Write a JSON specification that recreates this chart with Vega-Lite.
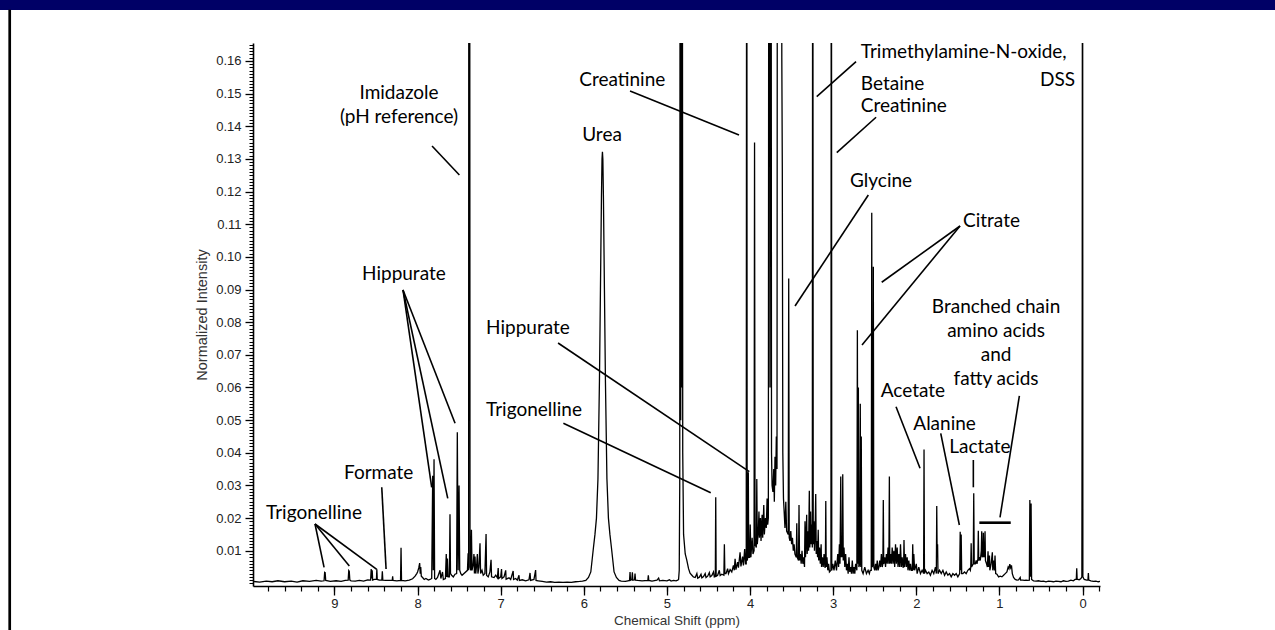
{
"$schema": "https://vega.github.io/schema/vega-lite/v6.json",
"width": 847, "height": 543,
"autosize": {"type": "none"},
"padding": {"left": 253, "top": 43, "right": 175, "bottom": 44},
"background": "white",
"config": {"view": {"stroke": null}, "font": "Liberation Sans"},
"resolve": {"axis": {"x": "independent", "y": "independent"}},
"datasets": {
"spectrum": [
{"p":9.98,"i":0.0006},{"p":9.9,"i":0.0004},{"p":9.82,"i":0.0007},{"p":9.75,"i":0.0005},{"p":9.68,"i":0.0008},{"p":9.6,"i":0.0005},{"p":9.52,"i":0.0007},{"p":9.45,"i":0.0004},{"p":9.38,"i":0.0008},{"p":9.3,"i":0.0006},{"p":9.22,"i":0.0009},{"p":9.16,"i":0.0007},
{"p":9.125,"i":0.0008},{"p":9.118,"i":0.0034},{"p":9.112,"i":0.0033},{"p":9.105,"i":0.0009},{"p":9.05,"i":0.0006},{"p":8.98,"i":0.0008},{"p":8.92,"i":0.0006},{"p":8.87,"i":0.0009},
{"p":8.835,"i":0.001},{"p":8.828,"i":0.0039},{"p":8.822,"i":0.0037},{"p":8.815,"i":0.001},{"p":8.8,"i":0.0008},{"p":8.75,"i":0.0007},{"p":8.7,"i":0.0009},{"p":8.65,"i":0.0007},{"p":8.6,"i":0.0011},
{"p":8.565,"i":0.001},{"p":8.558,"i":0.0044},{"p":8.552,"i":0.0015},{"p":8.546,"i":0.004},{"p":8.54,"i":0.001},{"p":8.52,"i":0.0012},{"p":8.495,"i":0.0012},{"p":8.49,"i":0.0043},{"p":8.485,"i":0.0012},{"p":8.46,"i":0.001},
{"p":8.43,"i":0.001},{"p":8.424,"i":0.0037},{"p":8.418,"i":0.001},{"p":8.38,"i":0.0009},{"p":8.305,"i":0.0009},{"p":8.3,"i":0.0022},{"p":8.295,"i":0.0009},{"p":8.25,"i":0.0008},
{"p":8.205,"i":0.0009},{"p":8.199,"i":0.0109},{"p":8.193,"i":0.0009},{"p":8.15,"i":0.0008},{"p":8.1,"i":0.001},{"p":8.06,"i":0.0014},{"p":8.03,"i":0.0022},{"p":8.01,"i":0.003},
{"p":8.0,"i":0.0035},{"p":7.985,"i":0.0048},{"p":7.975,"i":0.0062},{"p":7.968,"i":0.003},{"p":7.962,"i":0.005},{"p":7.955,"i":0.0022},{"p":7.94,"i":0.0018},{"p":7.92,"i":0.0012},{"p":7.9,"i":0.0015},{"p":7.87,"i":0.001},{"p":7.85,"i":0.0012},
{"p":7.83,"i":0.0015},{"p":7.818,"i":0.033},{"p":7.811,"i":0.004},{"p":7.802,"i":0.038},{"p":7.795,"i":0.0015},{"p":7.78,"i":0.0012},{"p":7.76,"i":0.0018},{"p":7.73,"i":0.004},{"p":7.72,"i":0.0015},{"p":7.7,"i":0.0035},{"p":7.69,"i":0.0012},
{"p":7.665,"i":0.0015},{"p":7.655,"i":0.009},{"p":7.649,"i":0.002},{"p":7.641,"i":0.0076},{"p":7.633,"i":0.002},{"p":7.617,"i":0.002},{"p":7.61,"i":0.0212},{"p":7.604,"i":0.003},{"p":7.59,"i":0.0025},{"p":7.57,"i":0.002},{"p":7.55,"i":0.0028},
{"p":7.53,"i":0.003},{"p":7.522,"i":0.0463},{"p":7.512,"i":0.004},{"p":7.501,"i":0.03},{"p":7.493,"i":0.004},{"p":7.48,"i":0.003},{"p":7.465,"i":0.0025},
{"p":7.4,"i":0.004},{"p":7.392,"i":0.0092},{"p":7.386,"i":0.004},{"p":7.383,"i":0.3},{"p":7.378,"i":0.05},{"p":7.374,"i":0.3},{"p":7.369,"i":0.005},
{"p":7.36,"i":0.004},{"p":7.352,"i":0.0164},{"p":7.345,"i":0.004},{"p":7.33,"i":0.006},{"p":7.322,"i":0.009},{"p":7.316,"i":0.003},{"p":7.309,"i":0.0082},{"p":7.3,"i":0.003},{"p":7.288,"i":0.006},{"p":7.281,"i":0.009},{"p":7.274,"i":0.003},{"p":7.262,"i":0.005},{"p":7.249,"i":0.0123},{"p":7.242,"i":0.003},{"p":7.225,"i":0.004},{"p":7.21,"i":0.0025},{"p":7.19,"i":0.003},{"p":7.176,"i":0.0151},{"p":7.17,"i":0.0025},{"p":7.15,"i":0.002},{"p":7.13,"i":0.0035},{"p":7.116,"i":0.0072},{"p":7.11,"i":0.002},{"p":7.08,"i":0.0018},{"p":7.06,"i":0.0025},{"p":7.04,"i":0.0017},{"p":7.03,"i":0.0047},{"p":7.025,"i":0.0015},
{"p":7.0,"i":0.002},{"p":6.99,"i":0.0044},{"p":6.985,"i":0.0015},{"p":6.96,"i":0.002},{"p":6.94,"i":0.004},{"p":6.935,"i":0.0013},{"p":6.9,"i":0.0017},{"p":6.88,"i":0.0012},{"p":6.85,"i":0.0038},{"p":6.845,"i":0.0012},{"p":6.82,"i":0.0015},{"p":6.8,"i":0.001},{"p":6.78,"i":0.0025},{"p":6.775,"i":0.0009},{"p":6.74,"i":0.0011},{"p":6.7,"i":0.0008},{"p":6.66,"i":0.0011},{"p":6.647,"i":0.0032},{"p":6.64,"i":0.0009},{"p":6.6,"i":0.0012},{"p":6.58,"i":0.0041},{"p":6.575,"i":0.0009},{"p":6.55,"i":0.0008},
{"p":6.5,"i":0.0006},{"p":6.45,"i":0.0004},{"p":6.4,"i":0.0005},{"p":6.35,"i":0.0003},{"p":6.3,"i":0.0004},{"p":6.25,"i":0.0003},{"p":6.2,"i":0.0004},{"p":6.15,"i":0.0003},{"p":6.1,"i":0.0005},{"p":6.05,"i":0.0006},{"p":6.016,"i":0.0007},
{"p":5.976,"i":0.0009},{"p":5.944,"i":0.0018},{"p":5.916,"i":0.0035},{"p":5.884,"i":0.011},{"p":5.866,"i":0.015},{"p":5.848,"i":0.02},{"p":5.83,"i":0.032},{"p":5.812,"i":0.062},{"p":5.8,"i":0.09},{"p":5.788,"i":0.118},{"p":5.781,"i":0.13},{"p":5.776,"i":0.1322},{"p":5.771,"i":0.13},{"p":5.764,"i":0.118},{"p":5.752,"i":0.09},{"p":5.74,"i":0.062},{"p":5.722,"i":0.032},{"p":5.704,"i":0.02},{"p":5.686,"i":0.015},{"p":5.668,"i":0.011},{"p":5.636,"i":0.0035},{"p":5.608,"i":0.0018},{"p":5.576,"i":0.0009},
{"p":5.55,"i":0.0007},{"p":5.5,"i":0.0006},{"p":5.47,"i":0.0008},{"p":5.45,"i":0.0009},{"p":5.444,"i":0.0035},{"p":5.438,"i":0.001},{"p":5.422,"i":0.0012},{"p":5.416,"i":0.0034},{"p":5.41,"i":0.001},{"p":5.39,"i":0.0011},{"p":5.384,"i":0.003},{"p":5.378,"i":0.001},{"p":5.35,"i":0.0009},{"p":5.3,"i":0.0008},{"p":5.23,"i":0.0009},{"p":5.224,"i":0.0025},{"p":5.218,"i":0.0009},{"p":5.18,"i":0.0007},{"p":5.12,"i":0.001},{"p":5.1,"i":0.0016},{"p":5.09,"i":0.0008},{"p":5.05,"i":0.0009},{"p":5.0,"i":0.0008},{"p":4.97,"i":0.0011},{"p":4.95,"i":0.0007},{"p":4.92,"i":0.0009},{"p":4.89,"i":0.0008},{"p":4.87,"i":0.001},
{"p":4.86,"i":0.0012},{"p":4.852,"i":0.004},{"p":4.846,"i":0.03},{"p":4.84,"i":0.3},{"p":4.834,"i":0.05},{"p":4.828,"i":0.3},{"p":4.822,"i":0.06},{"p":4.816,"i":0.3},{"p":4.81,"i":0.04},{"p":4.8,"i":0.015},{"p":4.78,"i":0.009},{"p":4.762,"i":0.0072},{"p":4.74,"i":0.0045},{"p":4.722,"i":0.0031},{"p":4.7,"i":0.0025},{"p":4.682,"i":0.002},
{"p":4.66,"i":0.0018},{"p":4.64,"i":0.003},{"p":4.63,"i":0.0016},{"p":4.61,"i":0.0019},{"p":4.59,"i":0.0028},{"p":4.58,"i":0.0017},{"p":4.56,"i":0.0021},{"p":4.54,"i":0.003},{"p":4.53,"i":0.0018},{"p":4.51,"i":0.0022},{"p":4.49,"i":0.0033},{"p":4.48,"i":0.002},{"p":4.46,"i":0.0024},{"p":4.44,"i":0.0035},{"p":4.43,"i":0.002},
{"p":4.418,"i":0.0022},{"p":4.413,"i":0.0264},{"p":4.408,"i":0.0022},{"p":4.39,"i":0.0025},{"p":4.37,"i":0.004},{"p":4.36,"i":0.0024},{"p":4.34,"i":0.0028},{"p":4.315,"i":0.0025},{"p":4.309,"i":0.012},{"p":4.303,"i":0.003},{"p":4.29,"i":0.003},{"p":4.27,"i":0.0045},{"p":4.26,"i":0.003},{"p":4.24,"i":0.0042},{"p":4.22,"i":0.0035},{"p":4.2,"i":0.0055},{"p":4.19,"i":0.004},{"p":4.18,"i":0.0075},{"p":4.17,"i":0.0042},{"p":4.15,"i":0.0065},{"p":4.14,"i":0.0048},{"p":4.12,"i":0.0095},{"p":4.11,"i":0.0052},{"p":4.09,"i":0.0082},{"p":4.08,"i":0.0055},{"p":4.065,"i":0.0105},{"p":4.055,"i":0.006},
{"p":4.046,"i":0.006},{"p":4.04,"i":0.3},{"p":4.035,"i":0.007},{"p":4.027,"i":0.008},{"p":4.021,"i":0.034},{"p":4.016,"i":0.008},{"p":4.005,"i":0.008},{"p":3.998,"i":0.018},{"p":3.99,"i":0.008},{"p":3.975,"i":0.014},{"p":3.965,"i":0.009},{"p":3.952,"i":0.01},{"p":3.946,"i":0.135},{"p":3.94,"i":0.012},{"p":3.925,"i":0.011},{"p":3.919,"i":0.032},{"p":3.913,"i":0.012},
{"p":3.9,"i":0.016},{"p":3.893,"i":0.022},{"p":3.887,"i":0.014},{"p":3.875,"i":0.02},{"p":3.868,"i":0.013},{"p":3.855,"i":0.021},{"p":3.848,"i":0.014},{"p":3.835,"i":0.024},{"p":3.828,"i":0.015},{"p":3.815,"i":0.02},{"p":3.805,"i":0.017},{"p":3.795,"i":0.026},{"p":3.788,"i":0.018},
{"p":3.78,"i":0.02},{"p":3.773,"i":0.3},{"p":3.765,"i":0.3},{"p":3.76,"i":0.06},{"p":3.755,"i":0.3},{"p":3.748,"i":0.3},{"p":3.742,"i":0.04},{"p":3.735,"i":0.03},{"p":3.725,"i":0.028},{"p":3.715,"i":0.035},{"p":3.708,"i":0.025},{"p":3.7,"i":0.0388},{"p":3.692,"i":0.03},{"p":3.684,"i":0.045},{"p":3.676,"i":0.035},
{"p":3.67,"i":0.3},{"p":3.662,"i":0.2},{"p":3.655,"i":0.3},{"p":3.648,"i":0.25},{"p":3.64,"i":0.3},{"p":3.632,"i":0.3},{"p":3.625,"i":0.3},{"p":3.618,"i":0.161},{"p":3.612,"i":0.1266},{"p":3.606,"i":0.04},{"p":3.598,"i":0.026},{"p":3.59,"i":0.022},{"p":3.58,"i":0.017},{"p":3.57,"i":0.025},{"p":3.56,"i":0.016},
{"p":3.541,"i":0.015},{"p":3.535,"i":0.0934},{"p":3.529,"i":0.014},{"p":3.52,"i":0.013},{"p":3.51,"i":0.016},{"p":3.5,"i":0.012},{"p":3.49,"i":0.014},{"p":3.48,"i":0.01},{"p":3.47,"i":0.012},{"p":3.46,"i":0.009},
{"p":3.444,"i":0.008},{"p":3.438,"i":0.0184},{"p":3.432,"i":0.008},{"p":3.417,"i":0.007},{"p":3.411,"i":0.024},{"p":3.405,"i":0.007},{"p":3.395,"i":0.009},{"p":3.385,"i":0.006},{"p":3.375,"i":0.01},{"p":3.365,"i":0.006},{"p":3.355,"i":0.008},{"p":3.345,"i":0.005},
{"p":3.339,"i":0.019},{"p":3.333,"i":0.008},{"p":3.325,"i":0.014},{"p":3.319,"i":0.021},{"p":3.313,"i":0.009},{"p":3.303,"i":0.016},{"p":3.296,"i":0.01},{"p":3.287,"i":0.0284},{"p":3.281,"i":0.011},{"p":3.272,"i":0.022},{"p":3.265,"i":0.012},{"p":3.257,"i":0.018},{"p":3.251,"i":0.011},{"p":3.246,"i":0.3},{"p":3.24,"i":0.012},
{"p":3.232,"i":0.019},{"p":3.225,"i":0.01},{"p":3.218,"i":0.015},{"p":3.21,"i":0.0274},{"p":3.204,"i":0.009},{"p":3.195,"i":0.013},{"p":3.188,"i":0.008},{"p":3.18,"i":0.0164},{"p":3.174,"i":0.007},{"p":3.165,"i":0.011},{"p":3.155,"i":0.006},{"p":3.145,"i":0.012},{"p":3.14,"i":0.005},{"p":3.13,"i":0.008},{"p":3.12,"i":0.005},{"p":3.11,"i":0.009},{"p":3.1,"i":0.005},
{"p":3.094,"i":0.005},{"p":3.089,"i":0.0252},{"p":3.084,"i":0.005},{"p":3.075,"i":0.008},{"p":3.065,"i":0.004},{"p":3.055,"i":0.006},{"p":3.045,"i":0.0035},{"p":3.027,"i":0.004},{"p":3.022,"i":0.3},{"p":3.017,"i":0.004},
{"p":3.005,"i":0.006},{"p":2.99,"i":0.004},{"p":2.975,"i":0.007},{"p":2.96,"i":0.004},{"p":2.945,"i":0.009},{"p":2.935,"i":0.005},{"p":2.925,"i":0.012},{"p":2.918,"i":0.006},{"p":2.909,"i":0.0327},{"p":2.903,"i":0.008},{"p":2.895,"i":0.014},{"p":2.89,"i":0.008},{"p":2.885,"i":0.0334},{"p":2.879,"i":0.007},{"p":2.87,"i":0.011},{"p":2.86,"i":0.005},{"p":2.85,"i":0.009},{"p":2.84,"i":0.004},
{"p":2.83,"i":0.006},{"p":2.82,"i":0.003},{"p":2.81,"i":0.008},{"p":2.8,"i":0.0035},{"p":2.79,"i":0.005},{"p":2.78,"i":0.003},{"p":2.77,"i":0.007},{"p":2.76,"i":0.003},{"p":2.75,"i":0.005},{"p":2.74,"i":0.003},{"p":2.73,"i":0.006},
{"p":2.715,"i":0.004},{"p":2.709,"i":0.0775},{"p":2.703,"i":0.006},{"p":2.697,"i":0.06},{"p":2.691,"i":0.005},{"p":2.68,"i":0.006},{"p":2.674,"i":0.055},{"p":2.668,"i":0.005},{"p":2.662,"i":0.045},{"p":2.656,"i":0.004},
{"p":2.64,"i":0.003},{"p":2.62,"i":0.005},{"p":2.6,"i":0.003},{"p":2.58,"i":0.004},{"p":2.565,"i":0.003},{"p":2.555,"i":0.004},{"p":2.542,"i":0.004},{"p":2.536,"i":0.1135},{"p":2.53,"i":0.005},{"p":2.523,"i":0.006},{"p":2.517,"i":0.097},{"p":2.511,"i":0.005},
{"p":2.5,"i":0.004},{"p":2.49,"i":0.006},{"p":2.48,"i":0.004},{"p":2.47,"i":0.007},{"p":2.46,"i":0.004},{"p":2.45,"i":0.005},{"p":2.44,"i":0.007},{"p":2.43,"i":0.005},{"p":2.42,"i":0.009},{"p":2.41,"i":0.005},{"p":2.402,"i":0.006},{"p":2.397,"i":0.0255},{"p":2.392,"i":0.006},{"p":2.38,"i":0.008},{"p":2.37,"i":0.005},{"p":2.36,"i":0.009},{"p":2.35,"i":0.006},{"p":2.34,"i":0.011},{"p":2.33,"i":0.006},{"p":2.324,"i":0.0327},{"p":2.319,"i":0.006},
{"p":2.31,"i":0.009},{"p":2.3,"i":0.006},{"p":2.29,"i":0.011},{"p":2.28,"i":0.006},{"p":2.27,"i":0.01},{"p":2.26,"i":0.005},{"p":2.25,"i":0.012},{"p":2.24,"i":0.006},{"p":2.23,"i":0.011},{"p":2.22,"i":0.005},{"p":2.21,"i":0.009},{"p":2.2,"i":0.005},{"p":2.19,"i":0.012},{"p":2.18,"i":0.005},{"p":2.17,"i":0.008},{"p":2.16,"i":0.005},{"p":2.153,"i":0.005},{"p":2.148,"i":0.0133},{"p":2.142,"i":0.005},
{"p":2.13,"i":0.009},{"p":2.12,"i":0.005},{"p":2.11,"i":0.008},{"p":2.1,"i":0.004},{"p":2.09,"i":0.007},{"p":2.08,"i":0.004},{"p":2.07,"i":0.006},{"p":2.06,"i":0.004},{"p":2.048,"i":0.004},{"p":2.043,"i":0.012},{"p":2.037,"i":0.004},{"p":2.03,"i":0.009},{"p":2.02,"i":0.004},{"p":2.0,"i":0.006},{"p":1.99,"i":0.003},{"p":1.97,"i":0.005},{"p":1.95,"i":0.003},{"p":1.93,"i":0.004},
{"p":1.912,"i":0.003},{"p":1.907,"i":0.041},{"p":1.902,"i":0.003},{"p":1.89,"i":0.004},{"p":1.87,"i":0.003},{"p":1.85,"i":0.0035},{"p":1.83,"i":0.0025},{"p":1.81,"i":0.004},{"p":1.79,"i":0.003},{"p":1.77,"i":0.005},{"p":1.759,"i":0.003},{"p":1.754,"i":0.0237},{"p":1.749,"i":0.008},{"p":1.744,"i":0.012},{"p":1.739,"i":0.003},
{"p":1.72,"i":0.004},{"p":1.7,"i":0.003},{"p":1.68,"i":0.004},{"p":1.66,"i":0.0025},{"p":1.64,"i":0.0035},{"p":1.62,"i":0.0025},{"p":1.6,"i":0.003},{"p":1.58,"i":0.002},{"p":1.56,"i":0.003},{"p":1.54,"i":0.0025},{"p":1.52,"i":0.003},{"p":1.5,"i":0.002},
{"p":1.478,"i":0.003},{"p":1.472,"i":0.0158},{"p":1.466,"i":0.004},{"p":1.46,"i":0.015},{"p":1.454,"i":0.003},{"p":1.44,"i":0.003},{"p":1.42,"i":0.0035},{"p":1.4,"i":0.003},{"p":1.38,"i":0.004},{"p":1.36,"i":0.0045},{"p":1.35,"i":0.004},
{"p":1.345,"i":0.005},{"p":1.34,"i":0.0123},{"p":1.335,"i":0.005},{"p":1.315,"i":0.006},{"p":1.309,"i":0.0276},{"p":1.303,"i":0.006},{"p":1.29,"i":0.006},{"p":1.28,"i":0.007},{"p":1.27,"i":0.006},{"p":1.259,"i":0.0075},{"p":1.254,"i":0.0161},{"p":1.249,"i":0.007},{"p":1.24,"i":0.008},{"p":1.23,"i":0.007},{"p":1.218,"i":0.01},{"p":1.213,"i":0.016},{"p":1.208,"i":0.008},{"p":1.198,"i":0.009},{"p":1.193,"i":0.0155},{"p":1.188,"i":0.008},{"p":1.178,"i":0.009},{"p":1.173,"i":0.016},{"p":1.168,"i":0.007},{"p":1.155,"i":0.006},{"p":1.145,"i":0.005},
{"p":1.137,"i":0.0098},{"p":1.132,"i":0.005},{"p":1.12,"i":0.0085},{"p":1.115,"i":0.004},{"p":1.1,"i":0.006},{"p":1.085,"i":0.0095},{"p":1.08,"i":0.004},{"p":1.07,"i":0.007},{"p":1.06,"i":0.004},{"p":1.053,"i":0.0085},{"p":1.045,"i":0.003},{"p":1.03,"i":0.0028},{"p":1.01,"i":0.002},{"p":0.99,"i":0.0022},{"p":0.97,"i":0.002},{"p":0.95,"i":0.0025},{"p":0.93,"i":0.003},{"p":0.91,"i":0.0035},{"p":0.895,"i":0.005},{"p":0.885,"i":0.0045},{"p":0.875,"i":0.0059},{"p":0.865,"i":0.0048},{"p":0.855,"i":0.0055},{"p":0.845,"i":0.003},
{"p":0.83,"i":0.0018},{"p":0.81,"i":0.0012},{"p":0.79,"i":0.001},{"p":0.77,"i":0.0011},{"p":0.75,"i":0.0018},{"p":0.745,"i":0.001},{"p":0.72,"i":0.001},{"p":0.7,"i":0.0009},{"p":0.68,"i":0.001},{"p":0.66,"i":0.0009},{"p":0.64,"i":0.001},{"p":0.634,"i":0.0255},{"p":0.628,"i":0.002},{"p":0.619,"i":0.0245},{"p":0.613,"i":0.0012},
{"p":0.59,"i":0.0008},{"p":0.56,"i":0.0007},{"p":0.53,"i":0.0008},{"p":0.5,"i":0.0006},{"p":0.47,"i":0.0007},{"p":0.44,"i":0.0005},{"p":0.41,"i":0.0007},{"p":0.38,"i":0.0006},{"p":0.35,"i":0.0005},{"p":0.32,"i":0.0007},{"p":0.29,"i":0.0006},{"p":0.26,"i":0.0005},{"p":0.23,"i":0.0008},{"p":0.2,"i":0.0006},{"p":0.17,"i":0.0007},{"p":0.14,"i":0.001},{"p":0.11,"i":0.0008},{"p":0.09,"i":0.0012},
{"p":0.075,"i":0.0012},{"p":0.07,"i":0.0046},{"p":0.065,"i":0.0013},{"p":0.04,"i":0.0011},{"p":0.02,"i":0.0015},{"p":0.008,"i":0.002},{"p":0.004,"i":0.087},{"p":0.0,"i":0.3},{"p":-0.004,"i":0.002},{"p":-0.02,"i":0.0012},{"p":-0.05,"i":0.001},{"p":-0.065,"i":0.001},{"p":-0.07,"i":0.0032},{"p":-0.075,"i":0.001},{"p":-0.1,"i":0.0008},{"p":-0.13,"i":0.0006},{"p":-0.16,"i":0.0007},{"p":-0.19,"i":0.0005},{"p":-0.21,"i":0.0006}
],
"leaders": [
{"p1":7.826,"i1":0.13397,"p2":7.497,"i2":0.12508},
{"p1":5.444,"i1":0.15081,"p2":4.133,"i2":0.13734},
{"p1":2.725,"i1":0.15979,"p2":3.198,"i2":0.14907},
{"p1":2.484,"i1":0.14276,"p2":2.957,"i2":0.13191},
{"p1":2.577,"i1":0.11896,"p2":3.459,"i2":0.08496},
{"p1":1.474,"i1":0.10946,"p2":2.416,"i2":0.09222},
{"p1":1.474,"i1":0.10946,"p2":2.653,"i2":0.07302},
{"p1":0.760,"i1":0.0574,"p2":0.993,"i2":0.02024},
{"p1":2.244,"i1":0.05412,"p2":1.955,"i2":0.03525},
{"p1":1.706,"i1":0.04597,"p2":1.482,"i2":0.01789},
{"p1":1.3138,"i1":0.03779,"p2":1.3138,"i2":0.02943},
{"p1":6.310,"i1":0.07363,"p2":4.009,"i2":0.03421},
{"p1":6.246,"i1":0.04904,"p2":4.473,"i2":0.02778},
{"p1":8.175,"i1":0.08986,"p2":7.830,"i2":0.02943},
{"p1":8.175,"i1":0.08986,"p2":7.637,"i2":0.02606},
{"p1":8.175,"i1":0.08986,"p2":7.549,"i2":0.04904},
{"p1":8.431,"i1":0.02943,"p2":8.379,"i2":0.00441},
{"p1":9.234,"i1":0.01819,"p2":9.125,"i2":0.00493},
{"p1":9.234,"i1":0.01819,"p2":8.821,"i2":0.00533},
{"p1":9.234,"i1":0.01819,"p2":8.491,"i2":0.00432}
],
"bar": [{"p1":1.2416,"p2":0.8638,"i":0.01859}],
"labelsC": [
{"t":"Imidazole","p":8.223,"i":0.14827},
{"t":"(pH reference)","p":8.223,"i":0.1411},
{"t":"Creatinine","p":5.537,"i":0.15234},
{"t":"Urea","p":5.781,"i":0.1355},
{"t":"Branched chain","p":1.0407,"i":0.08282},
{"t":"amino acids","p":1.0407,"i":0.07547},
{"t":"and","p":1.0407,"i":0.06812},
{"t":"fatty acids","p":1.0407,"i":0.06077}
],
"labelsL": [
{"t":"Trimethylamine-N-oxide,","p":2.668,"i":0.16083},
{"t":"Betaine","p":2.668,"i":0.15112},
{"t":"Creatinine","p":2.668,"i":0.14438},
{"t":"Glycine","p":2.797,"i":0.1215},
{"t":"Citrate","p":1.438,"i":0.10916},
{"t":"Acetate","p":2.428,"i":0.05718},
{"t":"Alanine","p":2.036,"i":0.04698},
{"t":"Lactate","p":1.6025,"i":0.03985},
{"t":"Hippurate","p":7.176,"i":0.07639},
{"t":"Trigonelline","p":7.176,"i":0.05127},
{"t":"Hippurate","p":8.668,"i":0.09293},
{"t":"Formate","p":8.885,"i":0.03188},
{"t":"Trigonelline","p":9.823,"i":0.01963}
],
"labelsR": [
{"t":"DSS","p":0.0902,"i":0.15234}
]
},
"layer": [
{
"data": {"name": "spectrum"},
"mark": {"type": "line", "color": "black", "strokeWidth": 1.3, "clip": true},
"encoding": {
"x": {"field": "p", "type": "quantitative",
"scale": {"domain": [-0.21, 9.98], "reverse": true, "nice": false, "zero": false},
"axis": {"orient": "bottom", "values": [0,1,2,3,4,5,6,7,8,9], "format": "d", "grid": false,
"tickSize": 9, "tickWidth": 1.3, "tickColor": "black", "domainColor": "black", "domainWidth": 1.6,
"labelFontSize": 13, "labelColor": "#222", "labelPadding": 2, "labelFont": "Liberation Sans",
"title": "Chemical Shift (ppm)", "titleFontSize": 13.5, "titleFontWeight": "normal", "titleColor": "#333", "titlePadding": 3, "titleFont": "Liberation Sans"}},
"y": {"field": "i", "type": "quantitative",
"scale": {"domain": [-0.0008, 0.1655], "nice": false, "zero": false},
"axis": {"orient": "left", "values": [0.01,0.02,0.03,0.04,0.05,0.06,0.07,0.08,0.09,0.10,0.11,0.12,0.13,0.14,0.15,0.16], "format": ".2f", "grid": false,
"tickSize": 8, "tickWidth": 1.3, "tickColor": "black", "domainColor": "black", "domainWidth": 1.6,
"labelFontSize": 13, "labelColor": "#222", "labelPadding": 4, "labelFont": "Liberation Sans",
"title": "Normalized Intensity", "titleFontSize": 14.5, "titleFontWeight": "normal", "titleColor": "#333", "titlePadding": 6, "titleFont": "Liberation Sans"}}
}
},
{
"data": {"name": "leaders"},
"mark": {"type": "rule", "color": "black", "strokeWidth": 1.6},
"encoding": {
"x": {"field": "p1", "type": "quantitative",
"scale": {"domain": [-0.21, 9.98], "reverse": true, "nice": false, "zero": false},
"axis": {"orient": "bottom", "values": [-0.2,0,0.2,0.4,0.6,0.8,1,1.2,1.4,1.6,1.8,2,2.2,2.4,2.6,2.8,3,3.2,3.4,3.6,3.8,4,4.2,4.4,4.6,4.8,5,5.2,5.4,5.6,5.8,6,6.2,6.4,6.6,6.8,7,7.2,7.4,7.6,7.8,8,8.2,8.4,8.6,8.8,9,9.2,9.4,9.6,9.8],
"labels": false, "domain": false, "grid": false, "tickSize": 5, "tickWidth": 1.2, "tickColor": "black", "title": null}},
"x2": {"field": "p2"},
"y": {"field": "i1", "type": "quantitative",
"scale": {"domain": [-0.0008, 0.1655], "nice": false, "zero": false},
"axis": {"orient": "left", "values": [0,0.001,0.002,0.003,0.004,0.005,0.006,0.007,0.008,0.009,0.010,0.011,0.012,0.013,0.014,0.015,0.016,0.017,0.018,0.019,0.020,0.021,0.022,0.023,0.024,0.025,0.026,0.027,0.028,0.029,0.030,0.031,0.032,0.033,0.034,0.035,0.036,0.037,0.038,0.039,0.040,0.041,0.042,0.043,0.044,0.045,0.046,0.047,0.048,0.049,0.050,0.051,0.052,0.053,0.054,0.055,0.056,0.057,0.058,0.059,0.060,0.061,0.062,0.063,0.064,0.065,0.066,0.067,0.068,0.069,0.070,0.071,0.072,0.073,0.074,0.075,0.076,0.077,0.078,0.079,0.080,0.081,0.082,0.083,0.084,0.085,0.086,0.087,0.088,0.089,0.090,0.091,0.092,0.093,0.094,0.095,0.096,0.097,0.098,0.099,0.100,0.101,0.102,0.103,0.104,0.105,0.106,0.107,0.108,0.109,0.110,0.111,0.112,0.113,0.114,0.115,0.116,0.117,0.118,0.119,0.120,0.121,0.122,0.123,0.124,0.125,0.126,0.127,0.128,0.129,0.130,0.131,0.132,0.133,0.134,0.135,0.136,0.137,0.138,0.139,0.140,0.141,0.142,0.143,0.144,0.145,0.146,0.147,0.148,0.149,0.150,0.151,0.152,0.153,0.154,0.155,0.156,0.157,0.158,0.159,0.160,0.161,0.162,0.163,0.164,0.165],
"labels": false, "domain": false, "grid": false, "tickSize": 4, "tickWidth": 1, "tickColor": "black", "title": null}},
"y2": {"field": "i2"}
}
},
{
"data": {"name": "bar"},
"mark": {"type": "rule", "color": "black", "strokeWidth": 2.6},
"encoding": {
"x": {"field": "p1", "type": "quantitative", "scale": {"domain": [-0.21, 9.98], "reverse": true, "nice": false, "zero": false}, "axis": null},
"x2": {"field": "p2"},
"y": {"field": "i", "type": "quantitative", "scale": {"domain": [-0.0008, 0.1655], "nice": false, "zero": false}, "axis": null}
}
},
{
"data": {"name": "labelsC"},
"mark": {"type": "text", "font": "Lato", "fontSize": 19, "color": "black", "align": "center", "baseline": "alphabetic"},
"encoding": {
"x": {"field": "p", "type": "quantitative", "scale": {"domain": [-0.21, 9.98], "reverse": true, "nice": false, "zero": false}, "axis": null},
"y": {"field": "i", "type": "quantitative", "scale": {"domain": [-0.0008, 0.1655], "nice": false, "zero": false}, "axis": null},
"text": {"field": "t"}
}
},
{
"data": {"name": "labelsL"},
"mark": {"type": "text", "font": "Lato", "fontSize": 19, "color": "black", "align": "left", "baseline": "alphabetic"},
"encoding": {
"x": {"field": "p", "type": "quantitative", "scale": {"domain": [-0.21, 9.98], "reverse": true, "nice": false, "zero": false}, "axis": null},
"y": {"field": "i", "type": "quantitative", "scale": {"domain": [-0.0008, 0.1655], "nice": false, "zero": false}, "axis": null},
"text": {"field": "t"}
}
},
{
"data": {"name": "labelsR"},
"mark": {"type": "text", "font": "Lato", "fontSize": 19, "color": "black", "align": "right", "baseline": "alphabetic"},
"encoding": {
"x": {"field": "p", "type": "quantitative", "scale": {"domain": [-0.21, 9.98], "reverse": true, "nice": false, "zero": false}, "axis": null},
"y": {"field": "i", "type": "quantitative", "scale": {"domain": [-0.0008, 0.1655], "nice": false, "zero": false}, "axis": null},
"text": {"field": "t"}
}
},
{
"data": {"values": [{}]},
"mark": {"type": "rect", "color": "#000066", "clip": false},
"encoding": {
"x": {"datum": 13.3, "type": "quantitative", "scale": {"domain": [-0.21, 9.98], "reverse": true, "nice": false, "zero": false}, "axis": null},
"x2": {"datum": -2.6},
"y": {"datum": 0.182, "type": "quantitative", "scale": {"domain": [-0.0008, 0.1655], "nice": false, "zero": false}, "axis": null},
"y2": {"datum": 0.17562}
}
},
{
"data": {"values": [{}]},
"mark": {"type": "rule", "color": "black", "strokeWidth": 2.7, "clip": false},
"encoding": {
"x": {"datum": 12.907, "type": "quantitative", "scale": {"domain": [-0.21, 9.98], "reverse": true, "nice": false, "zero": false}, "axis": null},
"y": {"datum": 0.1757, "type": "quantitative", "scale": {"domain": [-0.0008, 0.1655], "nice": false, "zero": false}, "axis": null},
"y2": {"datum": -0.016}
}
}
]
}
